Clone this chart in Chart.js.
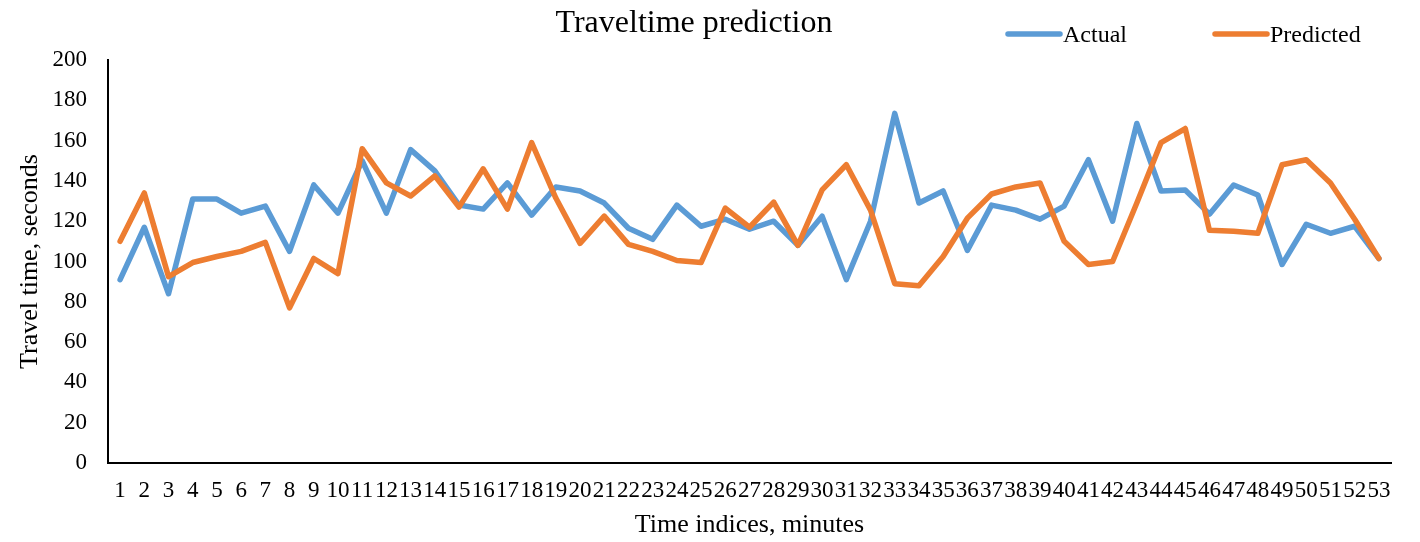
<!DOCTYPE html>
<html>
<head>
<meta charset="utf-8">
<script src="https://cdn.jsdelivr.net/npm/chart.js@4.4.1/dist/chart.umd.min.js"></script>
<style>
  html, body { margin: 0; padding: 0; background: #ffffff; }
  #wrap { width: 1420px; height: 542px; }
</style>
</head>
<body>
<div id="wrap"><canvas id="chart" width="1420" height="542"></canvas></div>
<script>
// Time index labels (minutes)
const timeIndices = ['1','2','3','4','5','6','7','8','9','10','11','12','13','14','15','16','17','18','19','20',
  '21','22','23','24','25','26','27','28','29','30','31','32','33','34','35','36','37','38','39','40',
  '41','42','43','44','45','46','47','48','49','50','51','52','53'];

// Measured travel time, seconds
const actualTimes = [91, 117, 84, 131, 131, 124, 127.5, 105, 138, 124,
  150, 124, 155.5, 145, 128, 126, 139, 123, 137, 135,
  129, 116.5, 111, 128, 117.5, 121, 116, 120, 108, 122.5,
  91, 120, 173.5, 129, 135, 105.5, 128, 125.5, 121, 127.5,
  150.5, 120, 168.5, 135, 135.5, 123.5, 138, 133, 98.5, 118.5,
  114, 117.5, 101.5];

// Model output, seconds
const predictedTimes = [110, 134, 92.5, 99.5, 102.5, 105, 109.5, 77, 101.5, 94,
  156, 139, 132.5, 142.5, 127, 146, 126, 159, 131.5, 109,
  122.5, 108.5, 105, 100.5, 99.5, 126.5, 117, 129.5, 108, 135.5,
  148, 125.5, 89, 88, 102.5, 121.5, 133.5, 137, 139, 110,
  98.5, 100, 129, 159, 166, 115.5, 115, 114, 148, 150.5,
  139, 121, 101.5];

const yTicks = [0, 20, 40, 60, 80, 100, 120, 140, 160, 180, 200];

const chartTitle = 'Traveltime prediction';
const seriesNames = ['Actual', 'Predicted'];
const xAxisTitle = 'Time indices, minutes';
const yAxisTitle = 'Travel time, seconds';

const SERIF = "'Liberation Serif', 'Times New Roman', serif";

// Title and legend share one row above the plot
const headerPlugin = {
  id: 'header',
  afterDraw(chart) {
    const ctx = chart.ctx;
    ctx.save();
    ctx.fillStyle = '#000000';
    ctx.font = '32px ' + SERIF;
    ctx.textAlign = 'center';
    ctx.textBaseline = 'alphabetic';
    ctx.fillText(chartTitle, 694, 32);

    const starts = [1006, 1213];
    chart.data.datasets.forEach((ds, i) => {
      const x0 = starts[i];
      ctx.strokeStyle = ds.borderColor;
      ctx.lineWidth = 5.5;
      ctx.lineCap = 'round';
      ctx.beginPath();
      ctx.moveTo(x0 + 2, 34);
      ctx.lineTo(x0 + 54, 34);
      ctx.stroke();
      ctx.fillStyle = '#000000';
      ctx.font = '24px ' + SERIF;
      ctx.textAlign = 'left';
      ctx.fillText(ds.label, x0 + 57, 42);
    });
    ctx.restore();
  }
};

new Chart(document.getElementById('chart'), {
  type: 'line',
  data: {
    labels: timeIndices,
    datasets: [
      {
        label: seriesNames[0],
        data: actualTimes,
        borderColor: '#5B9BD5',
        backgroundColor: '#5B9BD5',
        borderWidth: 5.5,
        pointRadius: 0,
        tension: 0,
        borderCapStyle: 'round',
        borderJoinStyle: 'round',
        order: 1
      },
      {
        label: seriesNames[1],
        data: predictedTimes,
        borderColor: '#ED7D31',
        backgroundColor: '#ED7D31',
        borderWidth: 5.5,
        pointRadius: 0,
        tension: 0,
        borderCapStyle: 'round',
        borderJoinStyle: 'round',
        order: 0
      }
    ]
  },
  options: {
    responsive: false,
    animation: false,
    layout: { padding: { top: 60, right: 29, left: 0, bottom: 0 } },
    plugins: {
      legend: { display: false },
      title: { display: false },
      tooltip: { enabled: false }
    },
    scales: {
      x: {
        type: 'category',
        offset: true,
        grid: { display: false, drawTicks: false },
        border: { display: true, color: '#000000', width: 2 },
        ticks: {
          autoSkip: false,
          maxRotation: 0,
          minRotation: 0,
          padding: 14,
          color: '#000000',
          font: { family: SERIF, size: 23 }
        },
        title: {
          display: true,
          text: xAxisTitle,
          color: '#000000',
          font: { family: SERIF, size: 26 },
          padding: { top: 0, bottom: 1 }
        },
        afterFit(scale) { scale.height = 79; }
      },
      y: {
        min: 0,
        max: 200,
        afterBuildTicks(scale) { scale.ticks = yTicks.map(v => ({ value: v })); },
        grid: { display: false, drawTicks: false },
        border: { display: true, color: '#000000', width: 2 },
        ticks: {
          padding: 21,
          color: '#000000',
          font: { family: SERIF, size: 23 }
        },
        title: {
          display: true,
          text: yAxisTitle,
          color: '#000000',
          font: { family: SERIF, size: 26 },
          padding: { top: 15, bottom: 0 }
        },
        afterFit(scale) { scale.width = 108; }
      }
    }
  },
  plugins: [headerPlugin]
});
</script>
</body>
</html>
